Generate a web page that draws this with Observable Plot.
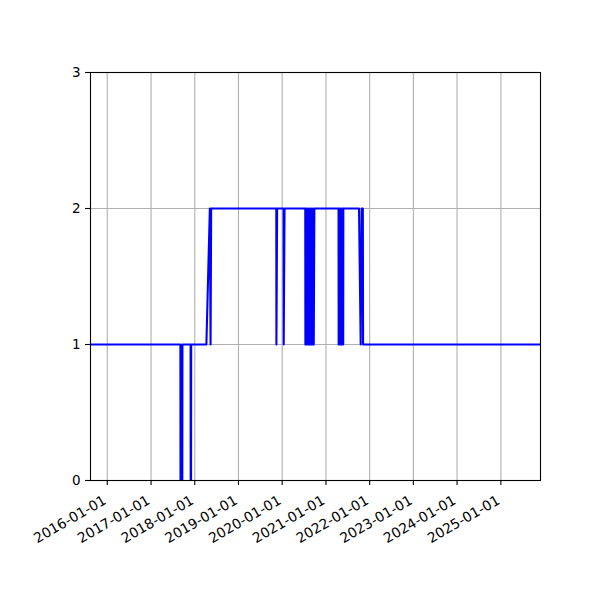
<!DOCTYPE html>
<html><head><meta charset="utf-8">
<script src="https://cdn.jsdelivr.net/npm/d3@7"></script>
<script src="https://cdn.jsdelivr.net/npm/@observablehq/plot@0.6"></script>
<style>body{margin:0;background:#fff}</style>
</head><body><div id="chart"></div>
<script>
const dates = [
  "2015-08-01","2017-09-03","2017-09-04","2017-09-19","2017-09-20",
  "2017-11-27","2017-11-28","2017-12-01","2017-12-02",
  "2018-04-08","2018-05-07","2018-05-13","2018-05-18",
  "2019-11-13","2019-11-14","2019-11-20",
  "2020-01-13","2020-01-14","2020-01-21",
  "2020-07-12","2020-07-13","2020-07-18","2020-07-25","2020-07-30","2020-08-06","2020-08-11",
  "2020-08-18","2020-08-23","2020-08-30","2020-09-04","2020-09-11","2020-09-16","2020-09-21","2020-09-26",
  "2021-04-16","2021-04-17","2021-04-22","2021-04-27","2021-05-02","2021-05-07","2021-05-12",
  "2021-05-17","2021-05-21","2021-05-25","2021-05-26",
  "2021-10-04","2021-10-18","2021-10-26","2021-11-05","2021-11-07",
  "2025-12-31"
];
const values = [
  1,1,0,0,1,
  1,0,0,1,
  1,2,1,2,
  2,1,2,
  2,1,2,
  2,1,2,1,2,1,2,
  1,2,1,2,1,2,1,2,
  2,1,2,1,2,1,2,
  1,2,1,2,
  2,1,2,2,1,
  1
];
const yTicks = [0, 1, 2, 3];
const xTickLabels = ["2016-01-01","2017-01-01","2018-01-01","2019-01-01","2020-01-01",
  "2021-01-01","2022-01-01","2023-01-01","2024-01-01","2025-01-01"];
const xDomain = ["2015-08-14", "2025-11-28"];

const data = dates.map((d, i) => ({date: new Date(d), value: values[i]}));
const xTicks = xTickLabels.map(s => new Date(s));

const chart = Plot.plot({
  width: 600, height: 600,
  marginLeft: 90, marginRight: 60, marginTop: 72, marginBottom: 120,
  style: {fontFamily: "DejaVu Sans", fontSize: "13px", background: "white", color: "black"},
  x: {type: "utc", domain: xDomain.map(s => new Date(s))},
  y: {domain: [0, 3]},
  marks: [
    Plot.gridX(xTicks, {stroke: "#b0b0b0", strokeOpacity: 1, strokeWidth: 1.1}),
    Plot.gridY(yTicks, {stroke: "#b0b0b0", strokeOpacity: 1, strokeWidth: 1.1}),
    Plot.line(data, {x: "date", y: "value", stroke: "#0000ff", strokeWidth: 2.08,
      strokeLinejoin: "round", clip: true}),
    Plot.frame({stroke: "black", strokeWidth: 1.1}),
    Plot.axisY(yTicks, {tickSize: 4.9, tickPadding: 4.9, fontSize: 13.5, label: null,
      tickFormat: d => String(d), strokeWidth: 1.1, fill: "black"}),
    Plot.axisX(xTicks, {tickSize: 4.9, tickFormat: () => "", label: null, strokeWidth: 1.1}),
    Plot.text(xTicks, {x: d => d, text: (d, i) => xTickLabels[i], frameAnchor: "bottom",
      rotate: -30, textAnchor: "end", lineAnchor: "top", dx: -5, dy: 14,
      fontSize: 13.9, fill: "black"})
  ]
});
document.getElementById("chart").appendChild(chart);
</script>
</body></html>
